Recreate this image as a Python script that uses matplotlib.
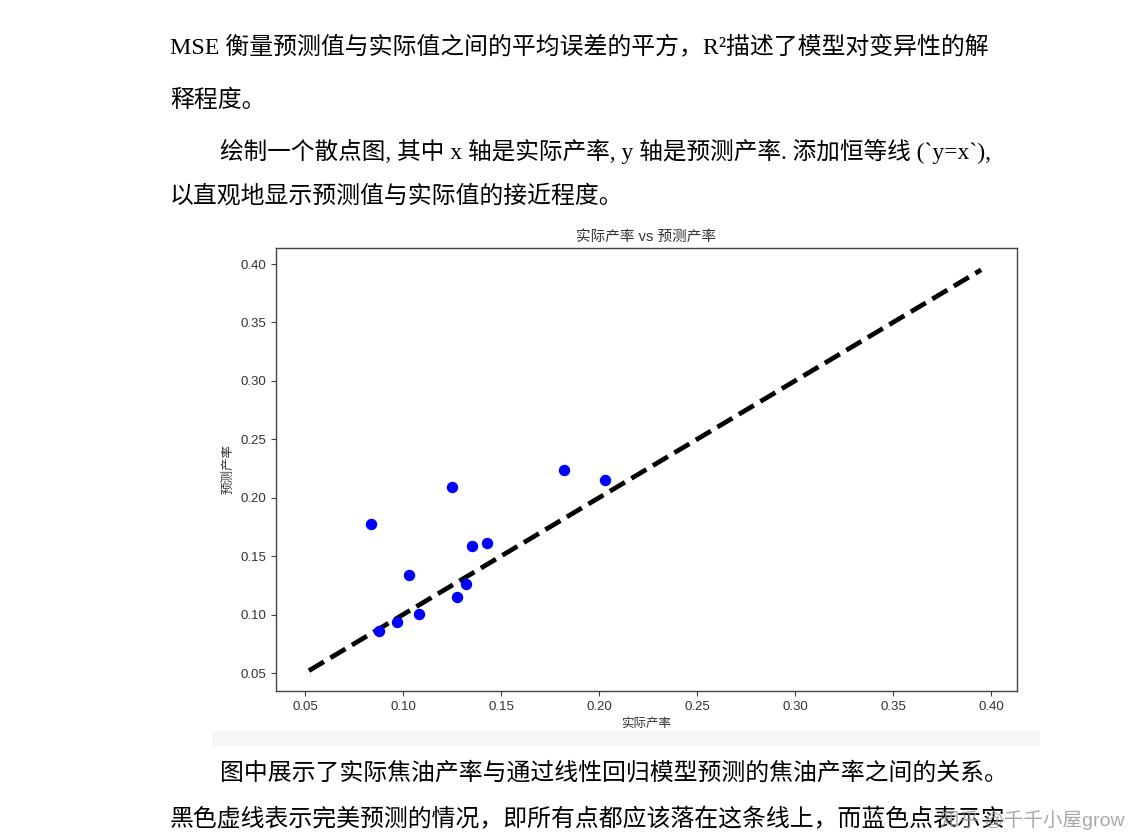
import matplotlib
matplotlib.use("Agg")
import matplotlib.pyplot as plt
from matplotlib.patches import Rectangle

# ---- data ----
actual = [0.0837, 0.0878, 0.0969, 0.1031, 0.1082, 0.1250, 0.1276, 0.1321, 0.1352, 0.1429, 0.1821, 0.2031]
predicted = [0.1776, 0.0860, 0.0937, 0.1339, 0.1005, 0.2092, 0.1150, 0.1262, 0.1587, 0.1613, 0.2238, 0.2152]
identity_range = [0.052, 0.395]
x_ticks = [0.05, 0.10, 0.15, 0.20, 0.25, 0.30, 0.35, 0.40]
y_ticks = [0.05, 0.10, 0.15, 0.20, 0.25, 0.30, 0.35, 0.40]
tick_labels = ["0.05", "0.10", "0.15", "0.20", "0.25", "0.30", "0.35", "0.40"]

title = "实际产率 vs 预测产率"
xlabel = "实际产率"
ylabel = "预测产率"

body_lines = [
    ("MSE 衡量预测值与实际值之间的平均误差的平方，R²描述了模型对变异性的解", 170, 48),
    ("释程度。", 170, 101),
    ("绘制一个散点图, 其中 x 轴是实际产率, y 轴是预测产率. 添加恒等线 (`y=x`),", 220, 151),
    ("以直观地显示预测值与实际值的接近程度。", 170, 196),
    ("图中展示了实际焦油产率与通过线性回归模型预测的焦油产率之间的关系。", 220, 773),
    ("黑色虚线表示完美预测的情况，即所有点都应该落在这条线上，而蓝色点表示实", 170, 820),
]
watermark = "知乎 @千千小屋grow"

W, H = 1144, 838
fig = plt.figure(figsize=(W / 100, H / 100), dpi=100)
fig.patch.set_facecolor("white")

serif = ["Liberation Serif", "Noto Sans CJK SC"]
sans = ["Liberation Sans", "Noto Sans CJK SC", "DejaVu Sans"]

for i, (txt, x, y) in enumerate(body_lines):
    fs = 17.2 if i != 2 else 17.0
    fig.text(x / W, 1 - y / H, txt, fontsize=fs, family=serif, color="black",
             ha="left", va="center")

# light band at the bottom of embedded image
band = Rectangle((212 / W, 1 - 746 / H), (1040 - 212) / W, 15 / H,
                 transform=fig.transFigure, facecolor="#f6f6f6", edgecolor="none", zorder=0)
fig.patches.append(band)

ax = fig.add_axes([276 / W, 1 - 691 / H, (1017 - 276) / W, (691 - 248) / H])
ax.plot(identity_range, identity_range, "k--", lw=3.4)
ax.scatter(actual, predicted, color="blue", s=52, zorder=3)
ax.set_xticks(x_ticks)
ax.set_xticklabels(tick_labels)
ax.set_yticks(y_ticks)
ax.set_yticklabels(tick_labels)
ax.set_xlim(0.0352, 0.4133)
ax.set_ylim(0.0346, 0.4137)
for sp in ax.spines.values():
    sp.set_color("#444444")
    sp.set_linewidth(1.0)
ax.tick_params(colors="#444444", labelcolor="#333333", labelsize=9.5)
for lab in ax.get_xticklabels() + ax.get_yticklabels():
    lab.set_family(sans)
ax.set_title(title, fontsize=10.5, family=sans, color="#333333", pad=5)
ax.set_xlabel(xlabel, fontsize=9, family=sans, color="#333333")
ax.set_ylabel(ylabel, fontsize=9, family=sans, color="#333333")

fig.text(940 / W, 1 - 820 / H, watermark, fontsize=14, family=sans, color="#999999",
         alpha=0.85, ha="left", va="center")

fig.savefig("out.png", dpi=100, facecolor="white")
